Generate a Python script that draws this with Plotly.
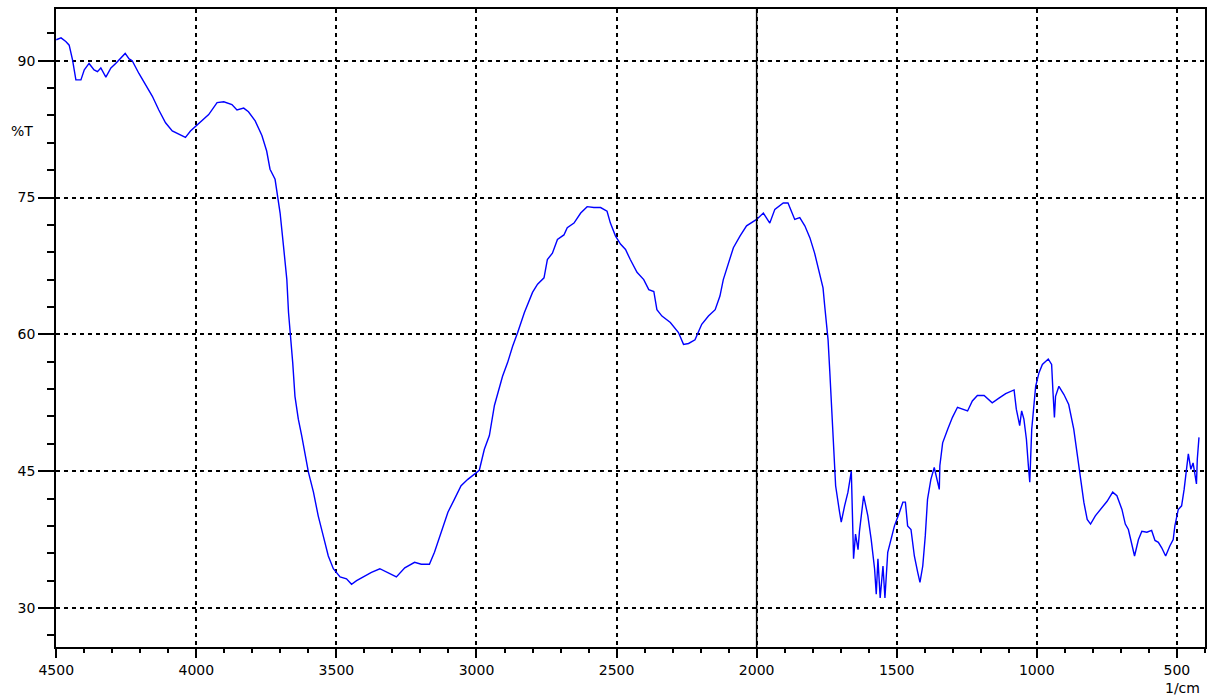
import plotly.graph_objects as go

wavenumber = [
    4500, 4483, 4466, 4454, 4442, 4430, 4412, 4400, 4383, 4365, 4353, 4341, 4323, 4305, 4288, 4270, 4254, 4240, 4229,
    4205, 4181, 4157, 4134, 4110, 4086, 4062, 4039, 4021, 4003, 3980, 3956, 3926, 3902, 3873, 3855, 3831, 3814, 3790,
    3766, 3749, 3737, 3719, 3711, 3701, 3689, 3677, 3671, 3663, 3656, 3648, 3636, 3624, 3612, 3600, 3582, 3565, 3547,
    3529, 3511, 3487, 3464, 3446, 3428, 3398, 3375, 3345, 3316, 3286, 3256, 3221, 3197, 3168, 3150, 3126, 3102, 3079,
    3055, 3031, 3007, 2990, 2972, 2954, 2936, 2924, 2907, 2889, 2871, 2853, 2829, 2800, 2782, 2759, 2747, 2729, 2711,
    2688, 2676, 2652, 2628, 2605, 2581, 2557, 2534, 2522, 2504, 2486, 2468, 2451, 2427, 2403, 2385, 2367, 2356, 2338,
    2308, 2279, 2261, 2243, 2220, 2196, 2172, 2148, 2131, 2119, 2101, 2083, 2059, 2036, 2000, 1976, 1953, 1935, 1905,
    1888, 1864, 1846, 1828, 1810, 1793, 1775, 1763, 1757, 1745, 1739, 1733, 1727, 1718, 1704, 1698, 1686, 1674, 1662,
    1658, 1654, 1647, 1638, 1633, 1618, 1603, 1591, 1579, 1573, 1567, 1559, 1549, 1542, 1532, 1520, 1508, 1490, 1478,
    1469, 1461, 1449, 1437, 1425, 1417, 1407, 1398, 1390, 1378, 1366, 1348, 1346, 1336, 1318, 1301, 1283, 1265, 1247,
    1230, 1212, 1188, 1159, 1135, 1111, 1081, 1073, 1061, 1054, 1046, 1037, 1030, 1025, 1018, 1010, 1004, 992, 980,
    959, 947, 942, 937, 933, 921, 903, 886, 868, 856, 844, 832, 820, 808, 791, 773, 749, 729, 714, 696, 684, 673, 661,
    651, 637, 625, 607, 590, 578, 566, 554, 540, 525, 513, 507, 495, 483, 474, 459, 450, 442, 436, 430, 427, 421,
]

transmittance = [
    92.3, 92.5, 92.1, 91.7, 90.1, 87.9, 87.9, 89.0, 89.7, 89.0, 88.8, 89.2, 88.2, 89.2, 89.7, 90.3, 90.8, 90.2, 90.0,
    88.6, 87.4, 86.1, 84.6, 83.2, 82.3, 81.9, 81.6, 82.3, 82.8, 83.4, 84.1, 85.4, 85.5, 85.2, 84.6, 84.8, 84.4, 83.4,
    81.8, 80.1, 78.1, 77.0, 75.1, 73.3, 69.7, 66.0, 62.4, 59.8, 56.9, 53.2, 50.7, 48.9, 46.7, 44.9, 42.7, 40.1, 37.9,
    35.7, 34.3, 33.4, 33.2, 32.6, 33.0, 33.5, 33.9, 34.3, 33.9, 33.4, 34.4, 35.0, 34.8, 34.8, 36.1, 38.3, 40.5, 41.9,
    43.4, 44.1, 44.7, 45.1, 47.4, 48.9, 52.2, 53.6, 55.4, 56.9, 58.7, 60.2, 62.4, 64.6, 65.5, 66.2, 68.2, 68.9, 70.4,
    70.9, 71.7, 72.2, 73.3, 74.0, 73.9, 73.9, 73.5, 72.2, 70.8, 69.9, 69.3, 68.2, 66.8, 66.0, 64.9, 64.7, 62.7, 62.0,
    61.3, 60.2, 58.9, 59.0, 59.4, 61.1, 62.0, 62.7, 64.2, 66.0, 67.8, 69.5, 70.8, 71.9, 72.6, 73.3, 72.2, 73.7, 74.4,
    74.4, 72.6, 72.8, 71.9, 70.6, 68.9, 66.8, 65.1, 63.1, 59.4, 56.0, 52.3, 47.6, 43.4, 40.5, 39.4, 41.2, 42.7, 45.0,
    40.5, 35.4, 38.1, 36.4, 38.4, 42.3, 40.1, 37.5, 34.3, 31.5, 35.4, 31.1, 34.6, 31.1, 36.1, 37.5, 39.0, 40.5, 41.6,
    41.6, 39.0, 38.6, 35.7, 33.9, 32.8, 34.6, 37.9, 41.9, 44.1, 45.4, 43.0, 45.6, 48.1, 49.6, 50.9, 52.0, 51.8, 51.6,
    52.7, 53.3, 53.3, 52.5, 53.0, 53.5, 53.9, 51.8, 50.0, 51.6, 50.7, 48.5, 45.6, 43.8, 49.6, 52.1, 54.3, 55.8, 56.7,
    57.3, 56.7, 53.6, 50.9, 53.2, 54.3, 53.4, 52.3, 49.6, 47.0, 44.1, 41.6, 39.7, 39.2, 40.1, 40.8, 41.7, 42.7, 42.3,
    40.8, 39.2, 38.6, 36.8, 35.7, 37.5, 38.4, 38.3, 38.5, 37.4, 37.2, 36.6, 35.7, 36.8, 37.5, 39.0, 40.8, 41.2, 43.0,
    46.9, 45.2, 45.9, 44.8, 43.6, 46.3, 48.7,
]

x_range = [4501, 399.5]
y_range = [25.72, 95.67]
y_ticks = [30, 45, 60, 75, 90]
x_ticks = [4500, 4000, 3500, 3000, 2500, 2000, 1500, 1000, 500]
x_marker_line = 2000

font = dict(family="DejaVu Sans", size=14, color="black")

fig = go.Figure()
fig.add_trace(go.Scatter(
    x=wavenumber, y=transmittance, mode="lines",
    line=dict(color="#0000FF", width=1.4),
    hoverinfo="x+y", showlegend=False,
))

fig.add_shape(type="line", xref="x", yref="paper", x0=x_marker_line, x1=x_marker_line,
              y0=0, y1=1, line=dict(color="black", width=1.5), layer="above")

fig.update_xaxes(
    range=x_range, tickvals=x_ticks, ticktext=[str(v) for v in x_ticks],
    showline=True, linecolor="black", linewidth=1.5, mirror=True,
    ticks="outside", ticklen=9, tickwidth=1.5, tickcolor="black",
    showgrid=True, gridcolor="black", gridwidth=1.5, griddash="4px,4px",
    minor=dict(dtick=100, tick0=0, ticks="outside", ticklen=4, tickwidth=1.5,
               tickcolor="black", showgrid=False),
    zeroline=False, tickfont=font,
)
fig.update_yaxes(
    range=y_range, tickvals=y_ticks, ticktext=[str(v) for v in y_ticks],
    showline=True, linecolor="black", linewidth=1.5, mirror=True,
    ticks="outside", ticklen=16, tickwidth=1.5, tickcolor="black",
    showgrid=True, gridcolor="black", gridwidth=1.5, griddash="4px,4px",
    minor=dict(dtick=3, tick0=0, ticks="outside", ticklen=7, tickwidth=1.5,
               tickcolor="black", showgrid=False),
    zeroline=False, tickfont=font,
)

fig.add_annotation(text="%T", xref="paper", yref="paper", x=-0.0295, y=0.809,
                   showarrow=False, font=font, xanchor="center", yanchor="middle")
fig.add_annotation(text="1/cm", xref="paper", yref="paper", x=0.980, y=-0.0635,
                   showarrow=False, font=font, xanchor="center", yanchor="middle")

fig.update_layout(
    width=1213, height=697,
    margin=dict(l=56, r=6, t=9, b=50),
    paper_bgcolor="white", plot_bgcolor="white",
    font=font,
)

fig.write_html("out.html")
